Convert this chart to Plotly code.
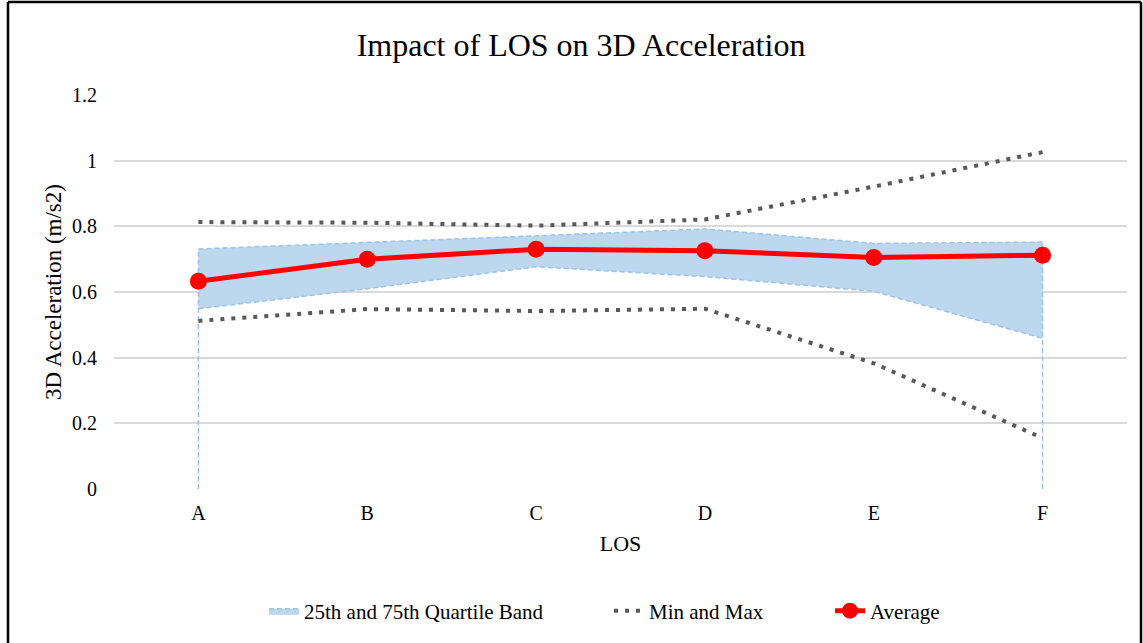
import plotly.graph_objects as go

categories = ["A", "B", "C", "D", "E", "F"]
q25 = [0.549, 0.610, 0.677, 0.647, 0.602, 0.459]
q75 = [0.731, 0.750, 0.771, 0.792, 0.748, 0.752]
vmin = [0.512, 0.548, 0.542, 0.549, 0.383, 0.155]
vmax = [0.813, 0.811, 0.802, 0.821, 0.921, 1.026]
average = [0.633, 0.700, 0.730, 0.726, 0.705, 0.712]
y_ticks = [0, 0.2, 0.4, 0.6, 0.8, 1, 1.2]
y_ticktext = ["0", "0.2", "0.4", "0.6", "0.8", "1", "1.2"]

FONT = "Times New Roman, Liberation Serif, Times, serif"
BAND_FILL = "#BDD7EE"
BAND_LINE = "#9DC3E6"
DOT = "#595959"
RED = "#FF0000"

fig = go.Figure()

# band lower edge
fig.add_trace(go.Scatter(
    x=categories, y=q25, mode="lines",
    line=dict(color=BAND_LINE, width=1.5, dash="5px,3px"),
    showlegend=False, hoverinfo="skip", legendgroup="band"))
# band upper edge with fill
fig.add_trace(go.Scatter(
    x=categories, y=q75, mode="lines", fill="tonexty", fillcolor=BAND_FILL,
    line=dict(color=BAND_LINE, width=1.5, dash="5px,3px"),
    name="25th and 75th Quartile Band", legendgroup="band", legend="legend"))
# vertical edges of the area down to zero
fig.add_trace(go.Scatter(
    x=[categories[0], categories[0], None, categories[-1], categories[-1]],
    y=[0, q75[0], None, 0, q75[-1]], mode="lines",
    line=dict(color=BAND_LINE, width=1.5, dash="5px,3px"),
    showlegend=False, hoverinfo="skip", legendgroup="band"))

# min and max
fig.add_trace(go.Scatter(
    x=categories, y=vmin, mode="lines",
    line=dict(color=DOT, width=4, dash="4px,7px"),
    name="Min and Max", legendgroup="mm", legend="legend2"))
fig.add_trace(go.Scatter(
    x=categories, y=vmax, mode="lines",
    line=dict(color=DOT, width=4, dash="4px,7px"),
    name="Min and Max", legendgroup="mm", showlegend=False, legend="legend2"))

# average
fig.add_trace(go.Scatter(
    x=categories, y=average, mode="lines+markers",
    line=dict(color=RED, width=5),
    marker=dict(color=RED, size=17),
    name="Average", legend="legend3"))

L, R, T, B = 114, 16, 95, 154
W, H = 1143, 643
pw = W - L - R
ph = H - T - B

def px_x(p):
    return (p - L) / pw

def px_y(p):
    return (H - B - p) / ph

def leg(text_start):
    return dict(orientation="h", x=px_x(text_start - 40), xanchor="left",
                y=px_y(611), yanchor="middle",
                font=dict(family=FONT, size=21, color="#000000"),
                bgcolor="rgba(0,0,0,0)")

fig.update_layout(
    width=W, height=H,
    margin=dict(l=L, r=R, t=T, b=B, autoexpand=False),
    paper_bgcolor="white", plot_bgcolor="white",
    font=dict(family=FONT, size=20, color="#000000"),
    title=dict(text="Impact of LOS on 3D Acceleration", x=581 / W, xanchor="center", xref="container",
               y=1 - 45 / H, yanchor="middle", yref="container",
               font=dict(family=FONT, size=32, color="#000000")),
    xaxis=dict(
        type="category", categoryorder="array", categoryarray=categories,
        range=[-0.5, len(categories) - 0.5],
        showgrid=False, showline=False, zeroline=False, ticks="",
        tickfont=dict(family=FONT, size=20, color="#000000"),
        ticklabelstandoff=10,
        title=dict(text="LOS", font=dict(family=FONT, size=22, color="#000000"), standoff=12),
    ),
    yaxis=dict(
        range=[0, 1.2], tickvals=y_ticks, ticktext=y_ticktext,
        showgrid=True, gridcolor="#D9D9D9", gridwidth=1.5,
        zeroline=False, showline=False, ticks="",
        tickfont=dict(family=FONT, size=20, color="#000000"),
        ticklabelstandoff=16,
        title=dict(text="3D Acceleration (m/s2)", font=dict(family=FONT, size=23, color="#000000"), standoff=3),
    ),
    legend=leg(304),
    legend2=leg(649),
    legend3=leg(870),
    shapes=[
        dict(type="line", xref="paper", yref="paper", x0=px_x(8), x1=px_x(8), y0=px_y(2), y1=px_y(700),
             line=dict(color="black", width=2.5)),
        dict(type="line", xref="paper", yref="paper", x0=px_x(8), x1=px_x(1141), y0=px_y(2), y1=px_y(2),
             line=dict(color="black", width=2.5)),
        dict(type="line", xref="paper", yref="paper", x0=px_x(1141), x1=px_x(1141), y0=px_y(2), y1=px_y(700),
             line=dict(color="black", width=2.5)),
    ],
)

fig.write_html("out.html")
